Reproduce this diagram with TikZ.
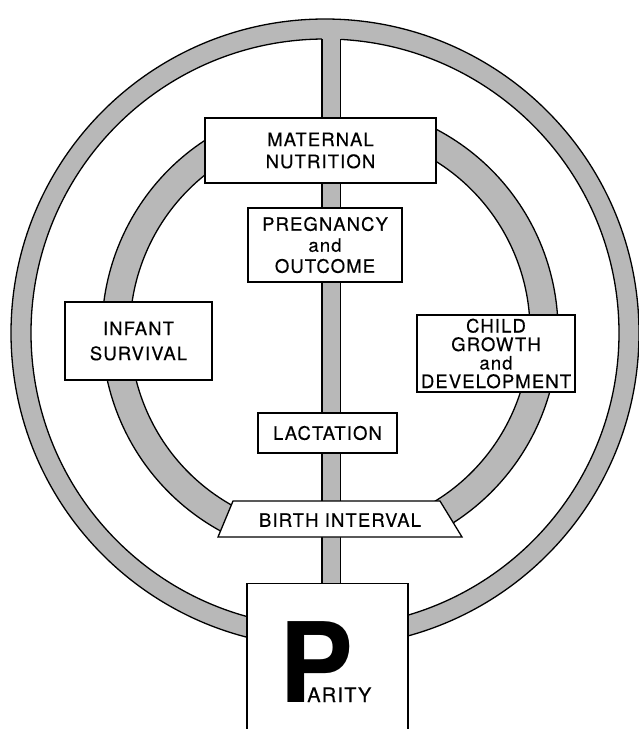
\documentclass[tikz,border=0pt]{standalone}
\usepackage{fontspec}
\setmainfont{TeX Gyre Heros}
\newfontfamily\labelfont[LetterSpace=6,FakeBold=0.4]{TeX Gyre Heros}
\usetikzlibrary{calc}
\begin{document}
\begin{tikzpicture}[x=1pt,y=-1pt,
  band/.style={fill=black!28, draw=black, line width=1.3pt},
  boxline/.style={draw=black, fill=white, line width=1.3pt},
  box/.style={boxline, inner sep=0pt, align=center,
    font=\labelfont\fontsize{18.5}{#1}\selectfont},
  box/.default=22,
  txt/.style={inner sep=0pt, align=center, font=\labelfont\fontsize{18.5}{22}\selectfont}
]
\useasboundingbox (0,0) rectangle (639,729);
\coordinate (oc) at (325,333);
\coordinate (ic) at (330,331);
% outer ring
\path[band, even odd rule] (oc) circle[radius=314] (oc) circle[radius=294];
% inner ring, left and right halves (ends hidden behind boxes)
\path[band] ($(ic)+(245:228)$) arc[start angle=245, end angle=116.5, radius=228]
  -- ($(ic)+(116.5:200)$) arc[start angle=116.5, end angle=245, radius=200] -- cycle;
\path[band] ($(ic)+(-65:228)$) arc[start angle=-65, end angle=63.5, radius=228]
  -- ($(ic)+(63.5:200)$) arc[start angle=63.5, end angle=-65, radius=200] -- cycle;
% parity box (bottom runs off the page)
\node[boxline, minimum width=161pt, minimum height=160pt, anchor=north, inner sep=0pt] (par) at (327.5,583) {};
% vertical bar
\coordinate (bartop) at (331.25,39.3);
\fill[black!28] ($(bartop)+(-9.25,-8)$) rectangle ($(par.north)+(13,0)$);
\draw[line width=1.3pt] ($(bartop)+(-9.25,0)$) -- ($(par.north)+(-5.5,0)$);
\draw[line width=1.3pt] ($(bartop)+(9.25,0)$) -- ($(par.north)+(13,0)$);
% boxes
\node[box, minimum width=231pt, minimum height=65pt] (mat) at (320.5,150.5) {MATERNAL\\NUTRITION};
\node[box=21, minimum width=154pt, minimum height=74pt] (preg) at (325,245) {PREGNANCY\\and\\OUTCOME};
\node[box=25, minimum width=147pt, minimum height=78pt] (inf) at (138.5,341) {INFANT\\SURVIVAL};
\node[box=18.5, minimum width=158pt, minimum height=77pt] (child) at (496,353.5) {CHILD\\GROWTH\\and\\DEVELOPMENT};
\node[box, minimum width=139pt, minimum height=40pt] (lac) at (327.5,433) {LACTATION};
\draw[boxline] (233,501) -- (440,501) -- (462,537) -- (218,537) -- cycle;
\node[txt] (birth) at (340,520) {BIRTH INTERVAL};
% parity lettering
\node[inner sep=0pt, anchor=base west] (parity) at (279,702)
  {{\bfseries\fontsize{111}{111}\selectfont P}\kern-46pt{\labelfont\fontsize{20}{22}\selectfont ARITY}};
\end{tikzpicture}
\end{document}
